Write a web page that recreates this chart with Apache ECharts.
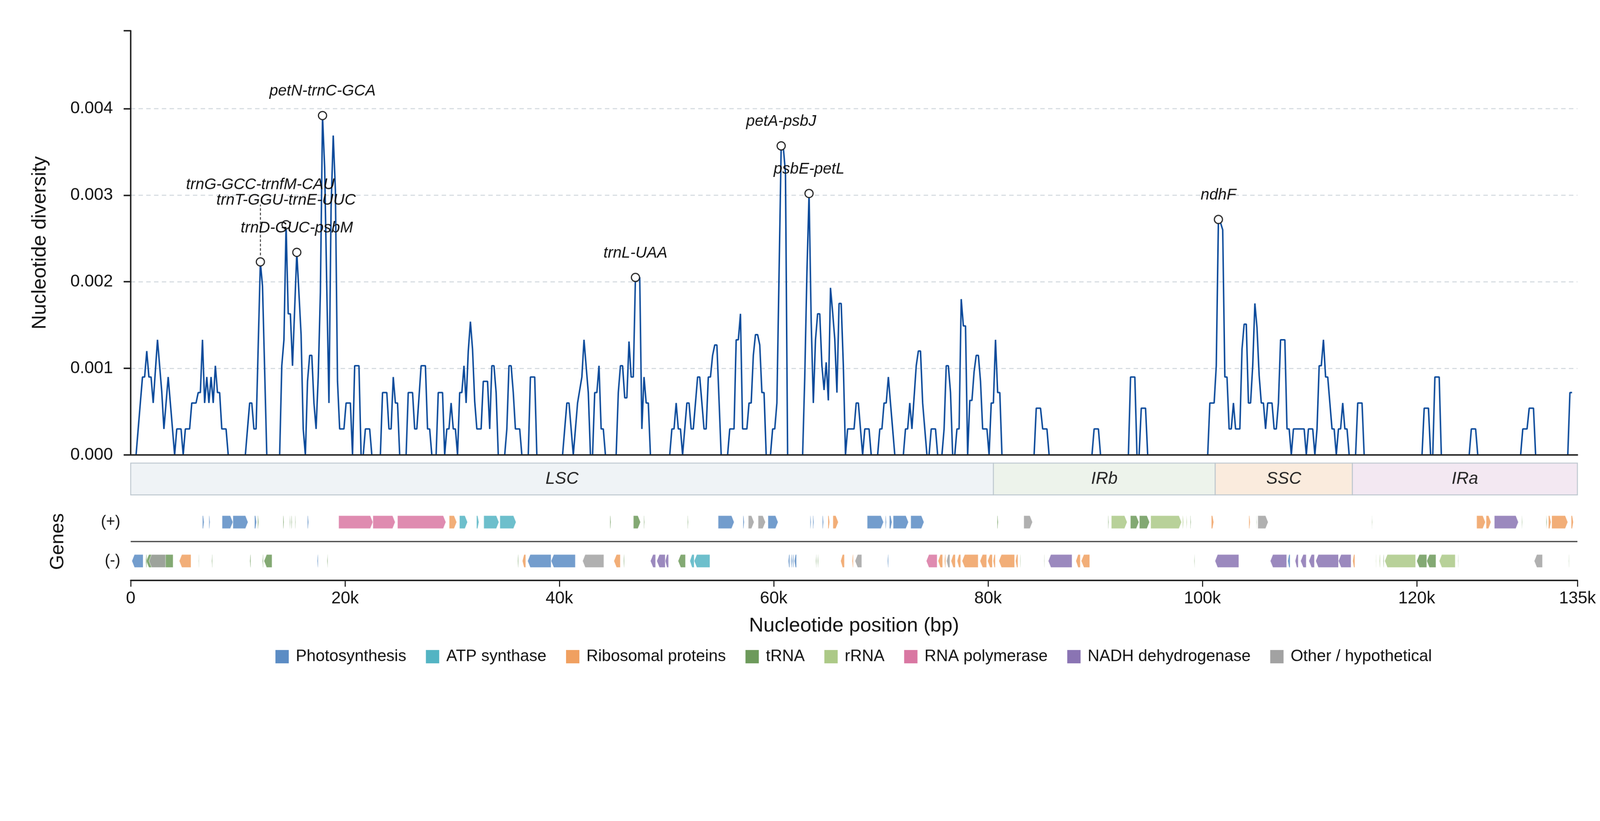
<!DOCTYPE html>
<html lang="en">
<head>
<meta charset="UTF-8">
<title>Nucleotide diversity along the plastome</title>
<script src="https://cdn.jsdelivr.net/npm/echarts@6.0.0/dist/echarts.min.js"></script>
<style>
html, body { margin: 0; padding: 0; background: #fff; overflow: hidden; }
#main { width: 4322px; height: 2102px; transform-origin: 0 0; }
</style>
</head>
<body>
<div id="main"></div>
<script>
// sliding-window nucleotide diversity (window centre in bp, pi) - vertices
const winPos = [500,1100,1300,1500,1700,1900,2100,2500,2900,3100,3500,3700,4100,4300,4700,4900,5100,5500,5700,6100,6300,6500,6700,6900,7100,7300,7500,7700,7900,8100,8300,8500,8900,9100,10700,11100,11300,11500,11700,12100,12300,12700,13900,14100,14300,14500,14700,14900,15100,15500,15900,16100,16300,16500,16700,16900,17100,17300,17500,17700,17900,18100,18300,18500,18700,18900,19100,19300,19500,19900,20100,20500,20700,20900,21300,21500,21700,21900,22300,22500,23300,23500,23900,24100,24300,24500,24700,24900,25100,25700,25900,26300,26500,26700,27100,27500,27700,27900,28100,28500,28700,29100,29300,29500,29700,29900,30100,30300,30500,30700,30900,31100,31300,31500,31700,31900,32100,32300,32700,32900,33300,33500,33700,33900,34100,34300,34900,35100,35300,35500,35700,35900,36300,36500,37100,37300,37700,37900,40300,40700,40900,41300,41500,41700,42100,42300,42700,42900,43100,43300,43500,43700,43900,44100,44300,45300,45500,45700,45900,46100,46300,46500,46700,46900,47100,47500,47700,47900,48100,48300,48500,50300,50500,50700,50900,51100,51300,51500,51700,51900,52100,52300,52500,52900,53100,53500,53700,53900,54100,54300,54500,54700,55100,55700,55900,56300,56500,56700,56900,57100,57500,57700,57900,58100,58300,58500,58700,58900,59100,59300,59700,59900,60100,60300,60700,60900,61100,61300,62700,62900,63100,63300,63500,63700,63900,64100,64300,64500,64700,64900,65100,65300,65500,65700,65900,66100,66300,66500,66700,66900,67500,67700,67900,68300,68500,68900,69100,69700,69900,70100,70300,70500,70700,71300,72100,72300,72500,72700,72900,73300,73500,73700,73900,74300,74500,74700,75100,75300,75700,75900,76100,76300,76500,76700,76900,77100,77300,77500,77700,77900,78100,78300,78500,78700,78900,79100,79300,79500,79900,80100,80300,80500,80700,80900,81100,81300,84300,84500,84900,85100,85500,85700,89700,89900,90300,90500,93100,93300,93700,93900,94100,94300,94700,94900,100500,100700,101100,101300,101500,101700,101900,102100,102300,102500,102700,102900,103100,103500,103700,103900,104100,104300,104500,104700,104900,105100,105300,105500,105700,105900,106100,106500,106700,106900,107100,107300,107700,107900,108100,108300,108500,109500,109700,109900,110300,110500,110700,110900,111100,111300,111500,111700,111900,112100,112300,112500,112700,112900,113100,113300,113500,113700,114300,114500,114900,115100,120500,120700,121100,121300,121500,121700,122100,122300,124900,125100,125500,125700,129700,129900,130300,130500,130900,131100,134100,134300,134500];
const piVal = [0,0.0009,0.0009,0.0012,0.0009,0.0009,0.0006,0.00133,0.00073,0.0003,0.0009,0.0006,0,0.0003,0.0003,0,0.0003,0.0003,0.0006,0.0006,0.00072,0.00072,0.00133,0.0006,0.0009,0.0006,0.0009,0.0006,0.00103,0.00072,0.00072,0.0003,0.0003,0,0,0.0006,0.0006,0.0003,0.0003,0.00223,0.00195,0,0,0.00103,0.00133,0.00266,0.00163,0.00163,0.00103,0.00234,0.00139,0.0003,0,0.00085,0.00115,0.00115,0.0006,0.0003,0.0009,0.00188,0.00392,0.00332,0.00191,0.0006,0.00286,0.00369,0.00306,0.00085,0.0003,0.0003,0.0006,0.0006,0,0.00103,0.00103,0,0,0.0003,0.0003,0,0,0.00072,0.00072,0.0003,0.0003,0.0009,0.0006,0.0006,0,0,0.00072,0.00072,0.0003,0.0003,0.00103,0.00103,0.0003,0.0003,0,0,0.00072,0.00072,0,0.0003,0.0003,0.0006,0.0003,0.0003,0,0.00072,0.00072,0.00103,0.0006,0.0012,0.00154,0.00122,0.00062,0.0003,0.0003,0.00085,0.00085,0.0003,0.00103,0.00103,0.00072,0,0,0.0003,0.00103,0.00103,0.00072,0.0003,0.0003,0,0,0.0009,0.0009,0,0,0.0006,0.0006,0,0.0003,0.0006,0.0009,0.00133,0.00072,0,0,0.00072,0.00072,0.00103,0.0003,0.0003,0,0,0.00072,0.00103,0.00103,0.00066,0.00066,0.00131,0.0009,0.0009,0.00205,0.00205,0.0003,0.0009,0.0006,0.0006,0,0,0.0003,0.0003,0.0006,0.0003,0.0003,0,0.0003,0.0006,0.0006,0.0003,0.0003,0.0009,0.0009,0.0003,0.0003,0.0009,0.0009,0.00115,0.00127,0.00127,0,0,0.0003,0.0003,0.00133,0.00133,0.00163,0.0003,0.0003,0.0006,0.0006,0.00115,0.00139,0.00139,0.00127,0.00072,0.00072,0,0,0.0003,0.0003,0.0006,0.00357,0.00355,0.00326,0,0,0.0009,0.0021,0.00302,0.00154,0.0006,0.00133,0.00163,0.00163,0.00103,0.00075,0.00107,0.00063,0.00193,0.00165,0.00134,0.00072,0.00175,0.00175,0.00103,0,0.0003,0.0003,0.0006,0.0006,0,0.0003,0.0003,0,0,0.0003,0.0003,0.0006,0.0006,0.0009,0,0,0.0003,0.0003,0.0006,0.0003,0.00103,0.0012,0.0012,0.0006,0,0,0.0003,0.0003,0,0,0.0003,0.00103,0.00103,0.00072,0,0,0.0003,0.0003,0.0018,0.00149,0.00149,0,0.00063,0.00063,0.00096,0.00115,0.00115,0.00085,0.0003,0.0003,0,0.0006,0.0006,0.00133,0.00072,0.00072,0,0,0.00054,0.00054,0.0003,0.0003,0,0,0.0003,0.0003,0,0,0.0009,0.0009,0,0,0.00054,0.00054,0,0,0.0006,0.0006,0.00103,0.00272,0.00268,0.0026,0.0009,0.0009,0.0003,0.0003,0.0006,0.0003,0.0003,0.00122,0.00151,0.00151,0.0006,0.0006,0.00103,0.00175,0.00147,0.00092,0.0006,0.0006,0.0003,0.0006,0.0006,0.0003,0.0003,0.0006,0.00133,0.00133,0.0003,0.0003,0,0.0003,0.0003,0,0.0003,0.0003,0,0.0003,0.00103,0.00103,0.00133,0.0009,0.0009,0.0006,0.0003,0.0003,0,0.0003,0.0003,0.0006,0.0003,0.0003,0,0,0.0006,0.0006,0,0,0.00054,0.00054,0,0,0.0009,0.0009,0,0,0.0003,0.0003,0,0,0.0003,0.0003,0.00054,0.00054,0,0,0.00072,0.00072];

// labelled hotspots
const peakNames = ['trnG-GCC-trnfM-CAU','trnT-GGU-trnE-UUC','trnD-GUC-psbM','petN-trnC-GCA','trnL-UAA','petA-psbJ','psbE-petL','ndhF'];
const peakPos = [12100, 14500, 15500, 17900, 47100, 60700, 63300, 101500];

// genome regions
const regionNames = ['LSC', 'IRb', 'SSC', 'IRa'];
const regionStart = [0, 80500, 101200, 114000];
const regionEnd = [80500, 101200, 114000, 135000];

// gene categories
const catNames = ['Photosynthesis','ATP synthase','Ribosomal proteins','tRNA','rRNA','RNA polymerase','NADH dehydrogenase','Other / hypothetical'];

// genes: [start, end, strand, category index]
const genes = [
  [6700,6850,1,0],[7300,7400,1,0],[8530,9540,1,0],[9540,10950,1,0],[11560,11740,1,0],[11850,11940,1,3],
  [14220,14300,1,3],[14840,14900,1,3],[14990,15060,1,3],[15340,15400,1,3],[16490,16600,1,0],
  [19410,22600,1,5],[22600,24680,1,5],[24900,29410,1,5],[29720,30420,1,2],[30680,31430,1,1],
  [32270,32490,1,1],[32950,34360,1,1],[34450,35960,1,1],[44720,44810,1,3],[46910,47570,1,3],
  [47880,47950,1,3],[51960,52030,1,3],[54820,56310,1,0],[57140,57250,1,0],[57630,58170,1,7],
  [58550,59230,1,7],[59470,60410,1,0],[63400,63490,1,0],[63660,63750,1,0],[64540,64650,1,0],
  [65070,65220,1,2],[65530,66030,1,2],[68730,70250,1,0],[70420,70510,1,0],[70800,71040,1,0],
  [71150,72575,1,0],[72790,74025,1,0],[80860,80950,1,3],[83340,84150,1,7],[91200,91270,1,3],
  [91510,92980,1,4],[93290,94080,1,3],[94130,95070,1,3],[95180,98060,1,4],[98150,98240,1,4],
  [98500,98570,1,4],[98870,98940,1,3],[100840,101060,1,2],[104340,104460,1,2],[105030,105080,1,3],
  [105180,106140,1,7],[115810,115860,1,3],[125600,126410,1,2],[126480,126930,1,2],[127250,129490,1,6],
  [129810,129860,1,3],[132080,132150,1,3],[132300,132530,1,2],[132600,134100,1,2],[134420,134620,1,2],
  [110,1160,-1,0],[1400,1500,-1,3],[1450,3960,-1,3],[1710,3250,-1,7],[4530,5630,-1,2],[6330,6370,-1,3],
  [7560,7630,-1,3],[11120,11210,-1,3],[12290,12370,-1,3],[12440,13190,-1,3],[17410,17500,-1,0],
  [18330,18400,-1,3],[36110,36180,-1,3],[36550,36860,-1,2],[37040,39230,-1,0],[39230,41490,-1,0],
  [42170,44150,-1,7],[45090,45690,-1,2],[45990,46060,-1,3],[48500,48980,-1,6],[49090,49880,-1,6],
  [49880,50190,-1,6],[51080,51770,-1,3],[52180,52580,-1,1],[52580,54050,-1,1],[61360,61500,-1,0],
  [61600,61700,-1,0],[61750,61860,-1,0],[61920,62130,-1,0],[63930,64000,-1,3],[64100,64170,-1,3],
  [66250,66600,-1,2],[67320,67430,-1,2],[67590,68220,-1,7],[70620,70710,-1,0],[74240,75250,-1,5],
  [75340,75760,-1,2],[75935,76045,-1,2],[76130,76440,-1,7],[76550,76950,-1,2],[77120,77450,-1,2],
  [77580,79080,-1,2],[79250,79870,-1,2],[79960,80400,-1,2],[80480,80680,-1,2],[81010,82480,-1,2],
  [82570,82790,-1,2],[82990,83030,-1,3],[85230,85270,-1,3],[85620,87840,-1,6],[88200,88610,-1,2],
  [88700,89490,-1,2],[99240,99290,-1,3],[101180,103400,-1,6],[106340,107870,-1,6],[107970,108190,-1,0],
  [108660,108950,-1,6],[109170,109690,-1,6],[109940,110460,-1,6],[110580,112700,-1,6],[112700,113880,-1,6],
  [114030,114230,-1,2],[116180,116230,-1,4],[116520,116600,-1,4],[116870,116940,-1,3],[117020,119900,-1,4],
  [120000,120940,-1,3],[120940,121800,-1,3],[122100,123600,-1,4],[123850,123900,-1,3],[130970,131740,-1,7],
  [134180,134230,-1,3]
];

// styling
const FONT = 'Liberation Sans, Arial, sans-serif';
const catColors = ['#5b8cc4','#53b4c3','#f0a060','#6d9a5b','#acc987','#d977a2','#8a74b3','#a2a2a2'];
const regionFill = ['#eff3f6','#edf3eb','#faebdd','#f3e8f2'];
const xMax = 135000, yMax = 0.0049;
const plotTop = 83, plotH = 1146;
const pxVal = yMax / plotH;

let chartDom = document.getElementById('main');
// the layout is laid out for a 4322 px wide page; fit it to the actual viewport
const fit = window.innerWidth / 4322;
if (Math.abs(fit - 1) > 0.002) chartDom.style.transform = 'scale(' + fit + ')';
let myChart = echarts.init(chartDom);

const lineData = winPos.map((p, i) => [p, piVal[i]]);
const peakData = peakNames.map((n, k) => {
  const v = piVal[winPos.indexOf(peakPos[k])];
  const item = { name: n, value: [peakPos[k], v] };
  if (k === 0) item.label = { distance: 175 };
  return item;
});
const trnG = peakData[0].value;

function geneShape(params, api) {
  const x1 = api.coord([api.value(0), 0])[0];
  const x2 = api.coord([api.value(1), 0])[0];
  const yc = api.coord([0, api.value(2) > 0 ? 1.5 : 0.5])[1];
  const h = api.size([0, 1 / 3])[1];
  const w = Math.max(x2 - x1, 1.5);
  const tip = Math.min(7, w * 0.5);
  let pts;
  if (api.value(2) > 0) {
    pts = [[x1, yc - h / 2], [x1 + w - tip, yc - h / 2], [x1 + w, yc], [x1 + w - tip, yc + h / 2], [x1, yc + h / 2]];
  } else {
    pts = [[x1 + w, yc - h / 2], [x1 + tip, yc - h / 2], [x1, yc], [x1 + tip, yc + h / 2], [x1 + w, yc + h / 2]];
  }
  return {
    type: 'polygon',
    shape: { points: pts },
    style: { fill: api.visual('color'), opacity: 0.85, stroke: '#ffffff', lineWidth: 1 }
  };
}

const geneSeries = catNames.map((name, k) => ({
  name: name,
  type: 'custom',
  xAxisIndex: 2,
  yAxisIndex: 2,
  itemStyle: { color: catColors[k] },
  renderItem: geneShape,
  data: genes.filter(g => g[3] === k).map(g => [g[0], g[1], g[2]]),
  z: 3
}));

let option = {
  animation: false,
  backgroundColor: '#ffffff',
  textStyle: { fontFamily: FONT },
  grid: [
    { left: 353, right: 61, top: plotTop, height: plotH },
    { left: 353, right: 61, top: 1251, height: 86 },
    { left: 353, right: 61, top: 1358, height: 210 }
  ],
  legend: {
    data: catNames,
    top: 1747,
    left: 739,
    icon: 'rect',
    itemWidth: 36,
    itemHeight: 36,
    itemGap: 53,
    textStyle: { fontSize: 44, color: '#111', fontFamily: FONT, padding: [0, 0, 0, 14] }
  },
  xAxis: [
    {
      gridIndex: 0, type: 'value', min: 0, max: xMax, z: 10,
      axisLine: { onZero: false, lineStyle: { color: '#222', width: 4 } },
      axisTick: { show: false }, axisLabel: { show: false }, splitLine: { show: false }
    },
    {
      gridIndex: 1, type: 'value', min: 0, max: xMax, show: false
    },
    {
      gridIndex: 2, type: 'value', min: 0, max: xMax, interval: 20000,
      name: 'Nucleotide position (bp)', nameLocation: 'middle', nameGap: 96,
      nameTextStyle: { fontSize: 54, color: '#111', fontFamily: FONT },
      axisLine: { onZero: false, lineStyle: { color: '#222', width: 4 } },
      axisTick: { length: 17, lineStyle: { color: '#222', width: 3 } },
      axisLabel: {
        fontSize: 46, color: '#111', margin: 26, fontFamily: FONT,
        formatter: v => (v === 0 ? '0' : Math.round(v / 1000) + 'k')
      },
      splitLine: { show: false }
    }
  ],
  yAxis: [
    {
      gridIndex: 0, type: 'value', min: 0, max: yMax, interval: 0.001,
      name: 'Nucleotide diversity', nameLocation: 'middle', nameGap: 218,
      nameTextStyle: { fontSize: 54, color: '#111', fontFamily: FONT },
      axisLine: { show: true, lineStyle: { color: '#222', width: 4 } },
      axisTick: { show: true, length: 19, lineStyle: { color: '#222', width: 4 } },
      axisLabel: {
        fontSize: 46, color: '#111', margin: 48, fontFamily: FONT,
        formatter: v => (v > 0.0045 ? '' : v.toFixed(3))
      },
      splitLine: {
        show: true, showMinLine: false, showMaxLine: false,
        lineStyle: { color: '#d6dce1', width: 3, type: [12, 9] }
      }
    },
    {
      gridIndex: 1, type: 'value', min: 0, max: 1, show: false
    },
    {
      gridIndex: 2, type: 'value', min: 0, max: 2, interval: 0.5,
      name: 'Genes', nameLocation: 'middle', nameGap: 170,
      nameTextStyle: { fontSize: 52, color: '#111', fontFamily: FONT },
      axisLine: { show: false }, axisTick: { show: false }, splitLine: { show: false },
      axisLabel: {
        fontSize: 42, color: '#111', margin: 28, fontFamily: FONT,
        formatter: v => (v === 1.5 ? '(+)' : v === 0.5 ? '(-)' : '')
      }
    }
  ],
  series: [
    {
      name: 'pi',
      type: 'line',
      xAxisIndex: 0, yAxisIndex: 0,
      data: lineData,
      showSymbol: false,
      lineStyle: { color: '#0b4a9b', width: 4 },
      z: 3
    },
    {
      name: 'hotspots',
      type: 'scatter',
      xAxisIndex: 0, yAxisIndex: 0,
      data: peakData,
      symbol: 'circle',
      symbolSize: 22,
      itemStyle: { color: '#ffffff', borderColor: '#222', borderWidth: 3, opacity: 1 },
      label: {
        show: true, position: 'top', distance: 32,
        formatter: p => p.name,
        fontSize: 42, fontStyle: 'italic', color: '#111', fontFamily: FONT
      },
      markLine: {
        silent: true, symbol: 'none', label: { show: false },
        lineStyle: { type: [7, 5], color: '#333', width: 2.5 },
        data: [[{ coord: [trnG[0], trnG[1] + 18 * pxVal] }, { coord: [trnG[0], trnG[1] + 155 * pxVal] }]]
      },
      z: 5
    },
    {
      name: 'regions',
      type: 'custom',
      xAxisIndex: 1, yAxisIndex: 1,
      data: regionNames.map((n, k) => [regionStart[k], regionEnd[k], k]),
      renderItem: function (params, api) {
        const s = api.coord([api.value(0), 1]);
        const e = api.coord([api.value(1), 0]);
        const k = api.value(2);
        return {
          type: 'group',
          children: [
            { type: 'rect', shape: { x: s[0], y: s[1], width: e[0] - s[0], height: e[1] - s[1] },
              style: { fill: regionFill[k], stroke: '#bcc6ce', lineWidth: 2.5 } },
            { type: 'text', style: { text: regionNames[k], x: (s[0] + e[0]) / 2, y: (s[1] + e[1]) / 2,
              align: 'center', verticalAlign: 'middle', fontSize: 46, fontStyle: 'italic',
              fontFamily: FONT, fill: '#222' } }
          ]
        };
      }
    },
    {
      name: 'strand divider',
      type: 'custom',
      xAxisIndex: 2, yAxisIndex: 2,
      data: [[0]],
      renderItem: function (params, api) {
        const a = api.coord([0, 1]);
        const b = api.coord([xMax, 1]);
        return { type: 'line', shape: { x1: a[0], y1: a[1], x2: b[0], y2: b[1] },
          style: { stroke: '#333', lineWidth: 3 } };
      },
      z: 2
    }
  ].concat(geneSeries)
};

option && myChart.setOption(option);
</script>
</body>
</html>
